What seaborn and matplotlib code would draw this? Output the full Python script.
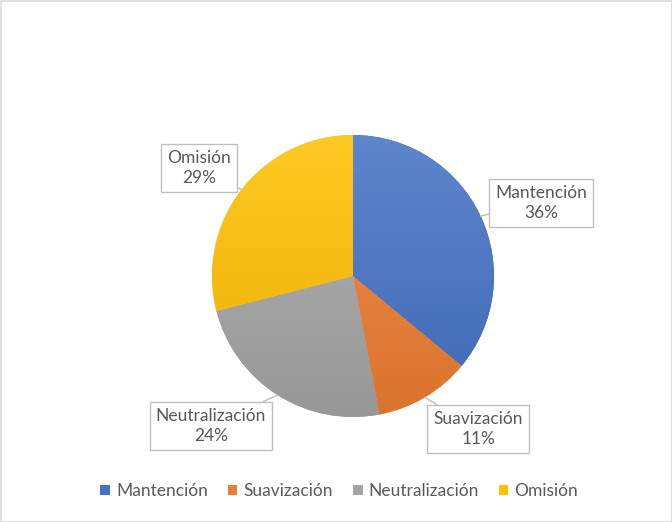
import numpy as np
import matplotlib
matplotlib.use("Agg")
import matplotlib.pyplot as plt
import matplotlib.colors as mcolors
from matplotlib.patches import Patch, Rectangle
import seaborn as sns

# data
categories = ["Mantención", "Suavización", "Neutralización", "Omisión"]
values = [36, 11, 24, 29]
colors = ["#4472C4", "#ED7D31", "#A5A5A5", "#FFC000"]

# label box centres (axes data units, pie radius = 1)
label_pos = [(1.333, 0.518), (0.887, -1.085), (-1.007, -1.064), (-1.092, 0.766)]

sns.set_style("white")
plt.rcParams["font.family"] = ["Lato", "DejaVu Sans"]
txt = "#595959"

fig = plt.figure(figsize=(6.72, 5.22), dpi=100)
ax = fig.add_axes([0, 0, 1, 1])

wedges, _ = ax.pie(values, colors=colors, startangle=90, counterclock=False,
                   wedgeprops=dict(linewidth=0))

# Excel-like vertical gradient on each slice
t = np.linspace(0, 1, 256)[:, None]
for w, c in zip(wedges, colors):
    base = np.array(mcolors.to_rgb(c))
    top = base + (1 - base) * 0.14
    bot = base * 0.92
    grad = top[None, None, :] * (1 - t[..., None]) + bot[None, None, :] * t[..., None]
    im = ax.imshow(grad, extent=(-1, 1, -1, 1), aspect="auto", zorder=2)
    im.set_clip_path(w)

# callout labels with leader lines
total = sum(values)
for w, name, v, (lx, ly) in zip(wedges, categories, values, label_pos):
    ang = np.deg2rad((w.theta1 + w.theta2) / 2)
    ax.annotate(f"{name}\n{v / total:.0%}", xy=(np.cos(ang), np.sin(ang)),
                xytext=(lx, ly), ha="center", va="center", fontsize=12.5,
                color=txt, linespacing=1.3, zorder=5,
                bbox=dict(boxstyle="square,pad=0.35", fc="white", ec="#BFBFBF", lw=1),
                arrowprops=dict(arrowstyle="-", color="#BFBFBF", lw=1,
                                shrinkA=0, shrinkB=0))

# axes limits so 1 unit = 141 px, pie centred at (353, 276) px from top-left
r = 141
ax.set_xlim(-353 / r, (672 - 353) / r)
ax.set_ylim(-(522 - 276) / r, 276 / r)
ax.set_aspect("auto")
ax.axis("off")

handles = [Patch(facecolor=c, edgecolor="none") for c in colors]
fig.legend(handles, categories, loc="center", bbox_to_anchor=(0.505, 31 / 522),
           ncol=4, frameon=False, fontsize=12.5, labelcolor=txt,
           handlelength=0.55, handleheight=0.55, handletextpad=0.35, columnspacing=1.15)

fig.patches.append(Rectangle((0.5 / 672, 0.5 / 522), 1 - 1 / 672, 1 - 1 / 522,
                             transform=fig.transFigure, fill=False,
                             ec="#D9D9D9", lw=1.2))

fig.savefig("out.png", dpi=100, facecolor="white")
